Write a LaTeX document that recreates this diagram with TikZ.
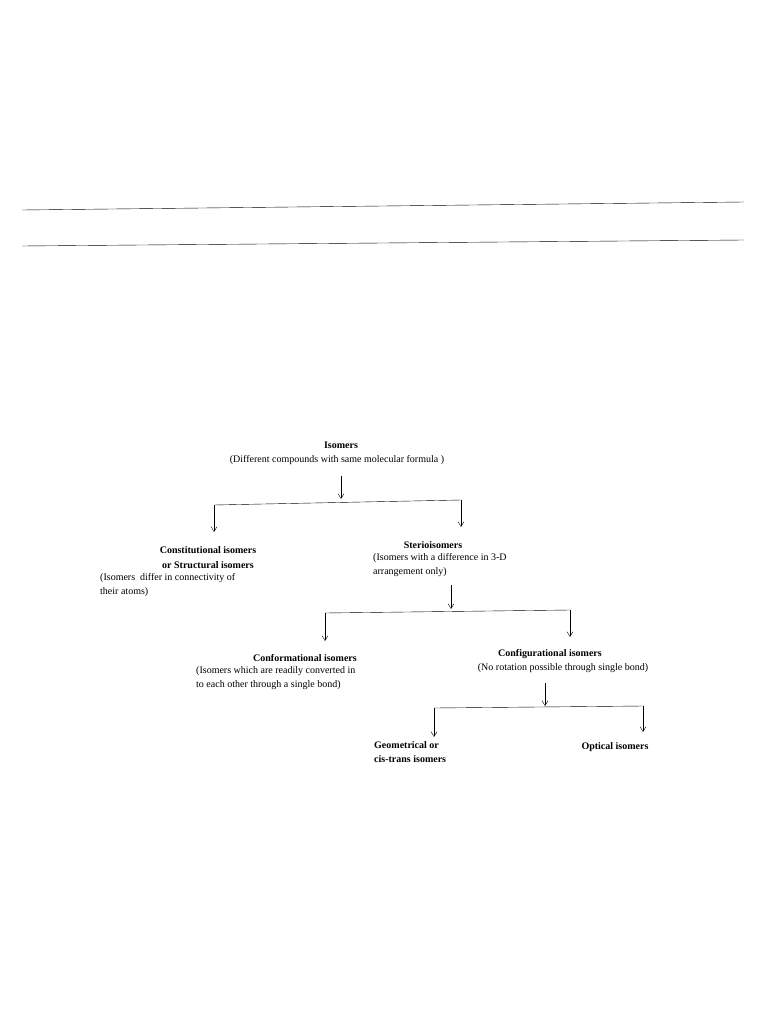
\documentclass[tikz,border=0pt]{standalone}
\usepackage{fontspec}
\setmainfont{Liberation Serif}
\usetikzlibrary{arrows.meta}
\begin{document}
\begin{tikzpicture}[x=1pt,y=-1pt,
  t/.style={inner sep=0pt,font=\fontsize{10}{14.5}\selectfont,align=center},
  tl/.style={t,align=left,anchor=north west},
  b/.style={t,font=\fontsize{10}{14.5}\selectfont\bfseries},
  ar/.style={->,>={Straight Barb[length=5pt,width=6pt]},thin},
  ln/.style={thin}]
\useasboundingbox (0,0) rectangle (768,1024);
\coordinate (l1a) at (22,210); \coordinate (l1b) at (744,202);
\coordinate (l2a) at (22,246); \coordinate (l2b) at (744,240);
\draw[ln] (l1a) -- (l1b);
\draw[ln] (l2a) -- (l2b);
% root
\node[b] (iso) at (341,445) {Isomers};
\node[t] (isod) at (337,460) {(Different compounds with same molecular formula )};
\coordinate (a1s) at (341,476); \coordinate (a1e) at (341,499);
\draw[ar] (a1s) -- (a1e);
\coordinate (br1l) at (214,505); \coordinate (br1r) at (461,500);
\coordinate (br1le) at (214,532); \coordinate (br1re) at (461,527);
\draw[ln] (br1l) -- (br1r);
\draw[ar] (br1l) -- (br1le);
\draw[ar] (br1r) -- (br1re);
% constitutional
\node[b] (con) at (208,550) {Constitutional isomers};
\node[b] (str) at (208,565) {or Structural isomers};
\node[tl] (cond) at (100,573) {(Isomers\ \ differ in connectivity of\\their atoms)};
% sterio
\node[b] (ste) at (433,545) {Sterioisomers};
\node[tl] (sted) at (373,553) {(Isomers with a difference in 3-D\\arrangement only)};
\coordinate (a2s) at (451,585); \coordinate (a2e) at (451,609);
\draw[ar] (a2s) -- (a2e);
\coordinate (br2l) at (325,613); \coordinate (br2r) at (570,610);
\coordinate (br2le) at (325,641); \coordinate (br2re) at (570,637);
\draw[ln] (br2l) -- (br2r);
\draw[ar] (br2l) -- (br2le);
\draw[ar] (br2r) -- (br2re);
% conformational
\node[b] (cnf) at (305,658) {Conformational isomers};
\node[tl] (cnfd) at (196,666) {(Isomers which are readily converted in\\to each other through a single bond)};
% configurational
\node[b] (cfg) at (550,654) {Configurational isomers};
\node[t] (cfgd) at (563,668) {(No rotation possible through single bond)};
\coordinate (a3s) at (545,683); \coordinate (a3e) at (545,706);
\draw[ar] (a3s) -- (a3e);
\coordinate (br3l) at (434,708); \coordinate (br3r) at (643,706);
\coordinate (br3le) at (434,737); \coordinate (br3re) at (643,732);
\draw[ln] (br3l) -- (br3r);
\draw[ar] (br3l) -- (br3le);
\draw[ar] (br3r) -- (br3re);
\node[b,align=left,anchor=north west] (geo) at (374,741) {Geometrical or\\cis-trans isomers};
\node[b] (opt) at (615,747) {Optical isomers};
\end{tikzpicture}
\end{document}
